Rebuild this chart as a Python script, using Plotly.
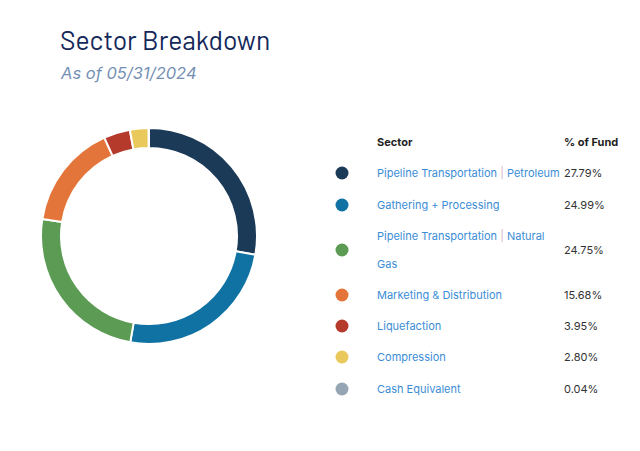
import plotly.graph_objects as go

# Daten
sectors = [
    "Pipeline Transportation | Petroleum",
    "Gathering + Processing",
    "Pipeline Transportation | Natural Gas",
    "Marketing & Distribution",
    "Liquefaction",
    "Compression",
    "Cash Equivalent",
]
weights = [27.79, 24.99, 24.75, 15.68, 3.95, 2.80, 0.04]
colors = ["#1b3a57", "#0f72a3", "#5b9b54", "#e4753a", "#b63a2b", "#e9c85c", "#95a5b3"]

# Tabellen-Beschriftung (Zeilen wie im Original umbrochen)
SEP = "<span style='color:#d8b4c8'>|</span>"
row_labels = [
    [f"Pipeline Transportation {SEP} Petroleum"],
    ["Gathering + Processing"],
    [f"Pipeline Transportation {SEP} Natural", "Gas"],
    ["Marketing & Distribution"],
    ["Liquefaction"],
    ["Compression"],
    ["Cash Equivalent"],
]

W, H = 640, 451
ROW_Y = [173, 205, 250, 295, 326, 357, 389]  # Pixelzeilen der Tabelle
LINE_GAP = 28
FONT = "Inter, Roboto, Noto Sans, sans-serif"
LABEL_BLUE = "#3b8dd6"

fig = go.Figure()
fig.add_trace(
    go.Pie(
        labels=sectors,
        values=weights,
        hole=0.815,
        sort=False,
        direction="clockwise",
        rotation=0,
        marker=dict(colors=colors, line=dict(color="white", width=2)),
        textinfo="none",
        hoverinfo="label+percent",
        showlegend=False,
        domain=dict(x=[41 / W, 257 / W], y=[1 - 344 / H, 1 - 128 / H]),
    )
)

# Legendenpunkte auf einer Pixel-Achse
fig.add_trace(
    go.Scatter(
        x=[342] * len(sectors),
        y=ROW_Y,
        mode="markers",
        marker=dict(color=colors, size=13),
        hoverinfo="skip",
        showlegend=False,
    )
)


def ann(x, y, text, size=11, color="#222", family=FONT):
    # -2 px gleicht das Innenpolster der Annotation aus
    fig.add_annotation(
        x=x - 2, y=y, xref="x", yref="y", text=text, showarrow=False,
        xanchor="left", yanchor="middle", align="left",
        font=dict(family=family, size=size, color=color),
    )


ann(60, 39, "Sector Breakdown", size=26.5, color="#14285a",
    family="Barlow, 'Roboto Condensed', 'Liberation Sans Narrow', Roboto, sans-serif")
ann(60, 73, "<i>As of 05/31/2024</i>", size=16.5, color="#7590b3")
ann(377, 142, "<b>Sector</b>", color="#1e1e1e")
ann(564, 142, "<b>% of Fund</b>", color="#1e1e1e")
for y, lines, v in zip(ROW_Y, row_labels, weights):
    y0 = y - LINE_GAP * (len(lines) - 1) / 2
    for i, line in enumerate(lines):
        ann(377, y0 + i * LINE_GAP, line, color=LABEL_BLUE)
    ann(564, y, f"{v:.2f}%", color="#333")

fig.update_layout(
    width=W,
    height=H,
    margin=dict(l=0, r=0, t=0, b=0),
    paper_bgcolor="white",
    plot_bgcolor="white",
    xaxis=dict(range=[0, W], visible=False, fixedrange=True),
    yaxis=dict(range=[H, 0], visible=False, fixedrange=True),
)

fig.write_html(
    "out.html",
    config={"displayModeBar": False},
    post_script="document.body.style.margin='0';",
)
